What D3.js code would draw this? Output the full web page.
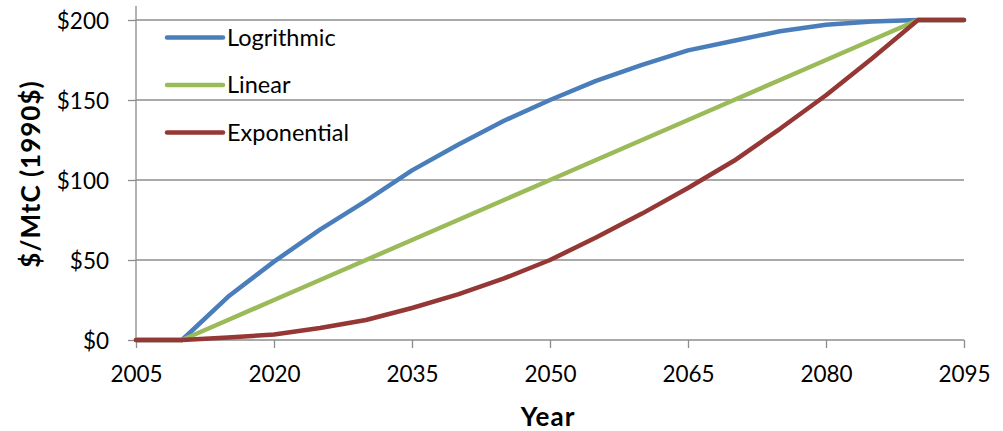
<!DOCTYPE html>
<html>
<head>
<meta charset="utf-8">
<script src="https://cdn.jsdelivr.net/npm/d3@7"></script>
<style>
  html, body { margin: 0; padding: 0; background: #fff; }
  svg { display: block; font-family: Lato, "Open Sans", sans-serif; }
</style>
</head>
<body>
<svg id="chart" width="1003" height="431"></svg>
<script>
const years = [2005,2010,2015,2020,2025,2030,2035,2040,2045,2050,2055,2060,2065,2070,2075,2080,2085,2090,2095];
const logrithmic = [0,0,27,49,69,87,106,122,137,150,162,172,181,187,193,197,199,200,200];
const linear = [0,0,12.5,25,37.5,50,62.5,75,87.5,100,112.5,125,137.5,150,162.5,175,187.5,200,200];
const exponential = [0,0,1.5,3.5,7.5,12.5,20,28.5,38.5,50,64,79,95,112,132,153,176,200,200];
const seriesNames = ["Logrithmic","Linear","Exponential"];
const seriesColors = ["#4a7ebb","#9bbb59","#953735"];
const yTicks = [0,50,100,150,200];
const xTickLabels = [2005,2020,2035,2050,2065,2080,2095];

const svg = d3.select("#chart");
const mLeft = 136, mRight = 964, mTop = 20, mBottom = 340;

const x = d3.scalePoint().domain(years).range([mLeft, mRight]);
const y = d3.scaleLinear().domain([0, 200]).range([mBottom, mTop]);

// gridlines
svg.append("g").selectAll("line").data(yTicks.filter(d => d > 0)).join("line")
  .attr("x1", mLeft).attr("x2", mRight)
  .attr("y1", d => y(d)).attr("y2", d => y(d))
  .attr("stroke", "#8c8c8c").attr("stroke-width", 1.3);

// y axis
const yAxis = svg.append("g").attr("transform", `translate(${mLeft},0)`)
  .call(d3.axisLeft(y).tickValues(yTicks).tickSize(8).tickPadding(19).tickFormat(d => "$" + d));
yAxis.select(".domain").remove();
yAxis.selectAll(".tick line").attr("stroke", "#8c8c8c").attr("stroke-width", 1.3);
yAxis.selectAll(".tick text").attr("font-size", 22.5).attr("fill", "#000")
  .attr("font-family", "Lato, 'Open Sans', sans-serif").attr("dy", "0.36em");
svg.append("line").attr("x1", mLeft).attr("x2", mLeft).attr("y1", 6).attr("y2", mBottom)
  .attr("stroke", "#8c8c8c").attr("stroke-width", 1.3);

// x axis
const xAxis = svg.append("g").attr("transform", `translate(0,${mBottom})`)
  .call(d3.axisBottom(x).tickValues(xTickLabels).tickSize(8).tickPadding(18));
xAxis.select(".domain").attr("stroke", "#8c8c8c").attr("stroke-width", 1.3).attr("d", `M${mLeft},0H${mRight}`);
xAxis.selectAll(".tick line").attr("stroke", "#8c8c8c").attr("stroke-width", 1.3);
xAxis.selectAll(".tick text").attr("font-size", 22.5).attr("fill", "#000")
  .attr("font-family", "Lato, 'Open Sans', sans-serif");

// lines
const allSeries = [logrithmic, linear, exponential];
const line = d3.line().x((d, i) => x(years[i])).y(d => y(d));
svg.append("g").selectAll("path").data(allSeries).join("path")
  .attr("d", d => line(d))
  .attr("fill", "none")
  .attr("stroke", (d, i) => seriesColors[i])
  .attr("stroke-width", 4.5)
  .attr("stroke-linejoin", "round")
  .attr("stroke-linecap", "round");

// legend
const legendY = [37.5, 85, 132.5];
const lg = svg.append("g").selectAll("g").data(seriesNames).join("g")
  .attr("transform", (d, i) => `translate(167,${legendY[i]})`);
lg.append("line").attr("x1", 0).attr("x2", 56).attr("y1", 0).attr("y2", 0)
  .attr("stroke", (d, i) => seriesColors[i]).attr("stroke-width", 4.5).attr("stroke-linecap", "round");
lg.append("text").attr("x", 60).attr("y", 0).attr("dy", "0.36em")
  .attr("font-size", 23.5).attr("fill", "#000").text(d => d);

// axis titles
svg.append("text").attr("x", 548).attr("y", 425.5).attr("text-anchor", "middle")
  .attr("font-size", 26).attr("font-weight", "bold").attr("letter-spacing", 1).text("Year");
svg.append("text").attr("transform", "translate(40,174) rotate(-90)").attr("text-anchor", "middle")
  .attr("font-size", 26).attr("font-weight", "bold").attr("letter-spacing", 1).text("$/MtC (1990$)");
</script>
</body>
</html>
